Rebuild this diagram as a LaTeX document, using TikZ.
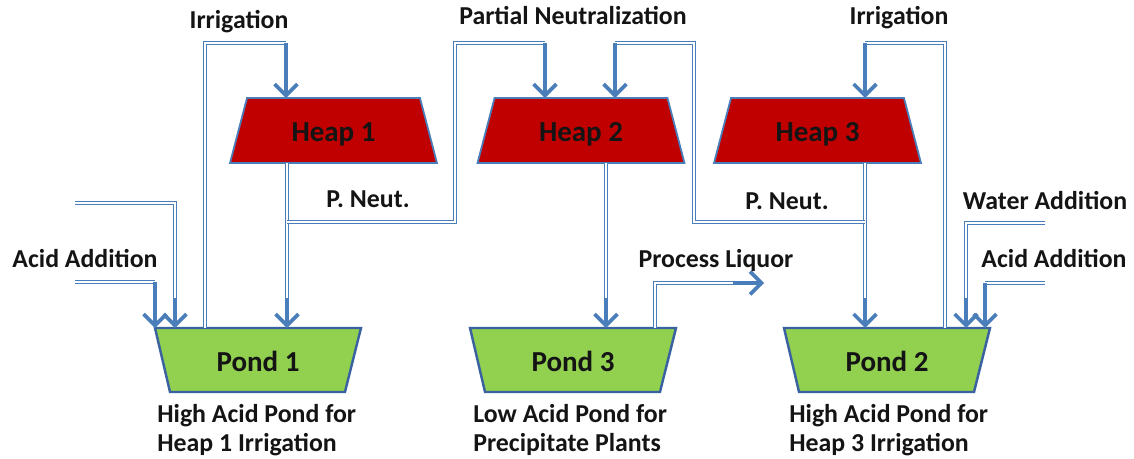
\documentclass[tikz,border=0pt]{standalone}
\usepackage{fontspec}
\setmainfont{Carlito}
\usetikzlibrary{arrows.meta,calc,backgrounds}
\definecolor{pipe}{HTML}{4A7EBB}
\definecolor{heapred}{HTML}{C00000}
\definecolor{pondgreen}{HTML}{92D050}
\definecolor{edgeblue}{HTML}{3A62A0}
\definecolor{txt}{HTML}{141414}
\newcommand\heapshape[1]{\filldraw[heapfill] ($(#1.north west)+(17,0)$) -- ($(#1.north east)+(-17,0)$) -- (#1.south east) -- (#1.south west) -- cycle;}
\newcommand\pondshape[1]{\filldraw[pondfill] (#1.north west) -- (#1.north east) -- ($(#1.south east)+(-16,0)$) -- ($(#1.south west)+(15,0)$) -- cycle;}
\begin{document}
\begin{tikzpicture}[x=0.02cm,y=-0.02cm,
  boxtext/.style={rectangle, inner sep=0pt, outer sep=0pt,
    font=\fontsize{16.5}{18}\selectfont\bfseries, text=txt,
    text height=13pt, text depth=0pt},
  heapbox/.style={boxtext, minimum width=4.14cm, minimum height=1.30cm},
  pondbox/.style={boxtext, minimum width=4.12cm, minimum height=1.28cm},
  heapfill/.style={fill=heapred, draw=pipe, line width=1pt, line join=miter},
  pondfill/.style={fill=pondgreen, draw=edgeblue, line width=1.4pt, line join=miter},
  lbl/.style={font=\fontsize{14.7}{17}\selectfont\bfseries, text=txt, inner sep=0pt, anchor=base},
  captxt/.style={lbl, anchor=base west, align=left},
  pipeline/.style={draw=pipe, line width=0.65pt, double=white, double distance=0.9pt},
  feed/.style={draw=pipe, line width=2.1pt, -{Straight Barb[length=6.5pt,width=13pt]}},
]
\useasboundingbox (0,0) rectangle (1134,459);

% heaps
\node[heapbox] (h1) at (333.5,130.5) {Heap 1};
\node[heapbox] (h2) at (581,130.5) {Heap 2};
\node[heapbox] (h3) at (817.5,130.5) {Heap 3};
% ponds
\node[pondbox] (p1) at (258,360) {Pond 1};
\node[pondbox] (p3) at (573,360) {Pond 3};
\node[pondbox] (p2) at (887,360) {Pond 2};

\begin{scope}[on background layer]
  \heapshape{h1}
  \heapshape{h2}
  \heapshape{h3}
  \pondshape{p1}
  \pondshape{p3}
  \pondshape{p2}
\end{scope}

% free ends
\coordinate (wl) at (75,203);
\coordinate (al) at (75,282);
\coordinate (wr) at (1045,223);
\coordinate (ar) at (1045,283);
\coordinate (pl) at (764,283);

% Irrigation to heap 1
\draw[pipeline] (205,0 |- p1.north) -- (205,43) -- (286,43);
\draw[feed] (286,43) -- (286,0 |- h1.north);
% heap 1 outflow
\draw[pipeline] (287,0 |- h1.south) -- (287,300);
\draw[feed] (287,298) -- (287,0 |- p1.north);
\draw[pipeline] (287,222) -- (455,222) -- (455,43) -- (545,43);
\draw[feed] (545,43) -- (545,0 |- h2.north);
% heap 3 outflow
\draw[pipeline] (865,0 |- h3.south) -- (865,300);
\draw[feed] (865,298) -- (865,0 |- p2.north);
\draw[pipeline] (865,222) -- (694,222) -- (694,43) -- (615,43);
\draw[feed] (615,43) -- (615,0 |- h2.north);
% heap 2 outflow
\draw[pipeline] (606,0 |- h2.south) -- (606,300);
\draw[feed] (606,298) -- (606,0 |- p3.north);
% process liquor
\draw[pipeline] (655,0 |- p3.north) -- (655,283) -- (735,283);
\draw[feed] (733,283) -- (pl);
% irrigation to heap 3
\draw[pipeline] (945,0 |- p2.north) -- (945,43) -- (865,43);
\draw[feed] (865,43) -- (865,0 |- h3.north);
% water / acid right
\draw[pipeline] (wr) -- (966,223) -- (966,300);
\draw[feed] (966,298) -- (966,0 |- p2.north);
\draw[pipeline] (ar) -- (985,283);
\draw[feed] (985,283) -- (985,0 |- p2.north);
% water / acid left
\draw[pipeline] (wl) -- (175,203) -- (175,300);
\draw[feed] (175,298) -- (175,0 |- p1.north);
\draw[pipeline] (al) -- (155,282);
\draw[feed] (155,282) -- (155,0 |- p1.north);

% labels
\node[lbl] (lirr1) at (239,29) {Irrigation};
\node[lbl] (lpn) at (573,25) {Partial Neutralization};
\node[lbl] (lirr3) at (899,25) {Irrigation};
\node[lbl] (lpn1) at (368,208) {P. Neut.};
\node[lbl] (lpn3) at (787,210) {P. Neut.};
\node[lbl] (lwr) at (1045,210) {Water Addition};
\node[lbl] (lar) at (1054,268) {Acid Addition};
\node[lbl] (lal) at (85,268) {Acid Addition};
\node[lbl] (lpl) at (716,268) {Process Liquor};
\node[captxt] (c1) at (157,452) {High Acid Pond for\\Heap 1 Irrigation};
\node[captxt] (c3) at (473,452) {Low Acid Pond for\\Precipitate Plants};
\node[captxt] (c2) at (789,452) {High Acid Pond for\\Heap 3 Irrigation};
\end{tikzpicture}
\end{document}
